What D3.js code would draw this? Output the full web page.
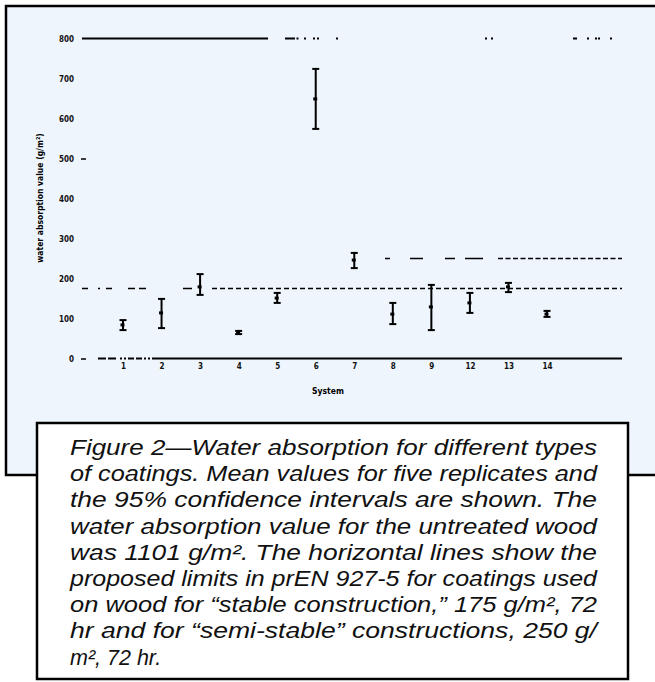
<!DOCTYPE html>
<html>
<head>
<meta charset="utf-8">
<script src="https://cdn.jsdelivr.net/npm/d3@7/dist/d3.min.js"></script>
<style>
  body { margin: 0; background: #fff; }
  svg { display: block; }
  .axis text { font-family: "DejaVu Sans Condensed", "DejaVu Sans", sans-serif; font-weight: bold; font-size: 8px; fill: #111; }
  .caption { font-family: "Liberation Sans", Arial, sans-serif; font-style: italic; font-size: 21.5px; fill: #111; }
</style>
</head>
<body>
<svg width="655" height="682"></svg>
<script>
// coating systems on the x axis
var systems = ["1", "2", "3", "4", "5", "6", "7", "8", "9", "12", "13", "14"];

// water absorption value (g/m2), mean and 95% confidence limits
var means = [84, 114, 179, 65, 151, 649, 246, 111, 129, 139, 179, 111];
var lower = [71, 76, 159, 61, 139, 574, 226, 86, 71, 114, 166, 104];
var upper = [96, 149, 211, 69, 164, 724, 264, 139, 184, 164, 189, 119];

var yTicks = [0, 100, 200, 300, 400, 500, 600, 700, 800];
var limits = [175, 250];   // prEN 927-5 limits
var yMax = 800;

var captionLines = [
  "Figure 2\u2014Water absorption for different types",
  "of coatings. Mean values for five replicates and",
  "the 95% confidence intervals are shown. The",
  "water absorption value for the untreated wood",
  "was 1101 g/m\u00b2. The horizontal lines show the",
  "proposed limits in prEN 927-5 for coatings used",
  "on wood for \u201cstable construction,\u201d 175 g/m\u00b2, 72",
  "hr and for \u201csemi-stable\u201d constructions, 250 g/",
  "m\u00b2, 72 hr."
];

var svg = d3.select("svg");

// light blue panel with black border, runs off the right edge
svg.append("rect")
    .attr("x", 6).attr("y", 6)
    .attr("width", 700).attr("height", 469)
    .attr("fill", "#eef5fc")
    .attr("stroke", "#000")
    .attr("stroke-width", 2.5);

var plotLeft = 80, plotRight = 622;

var x = d3.scalePoint()
    .domain(systems)
    .range([123, 547]);

var y = d3.scaleLinear()
    .domain([0, yMax])
    .range([358.5, 38.5]);

// y axis: labels only, a couple of tick dashes survive in the scan
var yAxis = svg.append("g")
    .attr("class", "axis")
    .attr("transform", "translate(86,0)")
    .call(d3.axisLeft(y).tickValues(yTicks).tickSize(5).tickPadding(7));
yAxis.select(".domain").remove();
yAxis.selectAll(".tick line")
    .attr("stroke-width", 1.5)
    .attr("stroke", "#000")
    .attr("opacity", function(d) { return (d === 0 || d === 500) ? 1 : 0; });

var xAxis = svg.append("g")
    .attr("class", "axis")
    .attr("transform", "translate(0," + y(0) + ")")
    .call(d3.axisBottom(x).tickSize(0).tickPadding(5));
xAxis.select(".domain").remove();

// horizontal lines: the axis, the two limits and the top line (broken in the scan)
// patterns are dash,gap pairs; a leading 0 starts with a gap
function dashes(prefix, unit, total) {
  var arr = prefix.slice(), len = d3.sum(prefix);
  while (len < total) { arr = arr.concat(unit); len += d3.sum(unit); }
  return arr.join(",");
}

var hLines = [
  { v: 0, w: 2, dash: dashes([0, 18, 8, 2, 8, 4, 2, 2, 2, 2, 6, 2, 6, 2, 2, 2, 2, 2, 480, 0], [5, 0], 560) },
  { v: limits[0], w: 1.6, dash: dashes([0, 2, 6, 10, 2, 6, 6, 16, 7, 4, 7, 37, 9, 20], [5, 3], 560) },
  { v: limits[1], w: 1.6, dash: dashes([0, 305, 5, 20, 13, 22, 10, 10, 18, 15], [5, 2.5], 560) },
  { v: yMax, w: 2, dash: "0,2,186,17,10,1.5,2,5.5,2,7,2,2,2,17,2,147,2,4,2,80,4,10,2,6,2,1,2,10,2,40" }
];

svg.append("g")
  .selectAll("line")
  .data(hLines)
  .enter().append("line")
    .attr("x1", plotLeft)
    .attr("x2", plotRight)
    .attr("y1", function(d) { return y(d.v); })
    .attr("y2", function(d) { return y(d.v); })
    .attr("stroke", "#000")
    .attr("stroke-width", function(d) { return d.w; })
    .attr("stroke-dasharray", function(d) { return d.dash; });

// error bars
var bars = systems.map(function(s, i) {
  return { id: s, mean: means[i], lo: lower[i], hi: upper[i] };
});

var bar = svg.append("g")
  .selectAll("g")
  .data(bars)
  .enter().append("g")
    .attr("transform", function(d) { return "translate(" + x(d.id) + ",0)"; });

bar.append("line")
    .attr("y1", function(d) { return y(d.lo); })
    .attr("y2", function(d) { return y(d.hi); })
    .attr("stroke", "#000")
    .attr("stroke-width", 2);

bar.selectAll(".cap")
    .data(function(d) { return [d.lo, d.hi]; })
    .enter().append("line")
    .attr("class", "cap")
    .attr("x1", -3.5).attr("x2", 3.5)
    .attr("y1", function(v) { return y(v); })
    .attr("y2", function(v) { return y(v); })
    .attr("stroke", "#000")
    .attr("stroke-width", 2);

bar.append("rect")
    .attr("x", -2.5)
    .attr("y", function(d) { return y(d.mean) - 1.5; })
    .attr("width", 4)
    .attr("height", 3)
    .attr("fill", "#000");

// axis titles
svg.append("text")
    .attr("transform", "translate(43,198) rotate(-90)")
    .attr("text-anchor", "middle")
    .style("font-family", "'DejaVu Sans Condensed', sans-serif")
    .style("font-weight", "bold")
    .style("font-size", "8.5px")
    .text("water absorption value (g/m\u00b2)");

svg.append("text")
    .attr("x", 328)
    .attr("y", 394)
    .attr("text-anchor", "middle")
    .style("font-family", "'DejaVu Sans Condensed', sans-serif")
    .style("font-weight", "bold")
    .style("font-size", "8.5px")
    .text("System");

// caption box
svg.append("rect")
    .attr("x", 37).attr("y", 423)
    .attr("width", 591).attr("height", 256)
    .attr("fill", "#fff")
    .attr("stroke", "#000")
    .attr("stroke-width", 2.5);

svg.append("g")
  .selectAll("text")
  .data(captionLines)
  .enter().append("text")
    .attr("class", "caption")
    .attr("x", 70)
    .attr("y", function(d, i) { return 455 + i * 26.2; })
    .attr("textLength", function(d, i) { return i < captionLines.length - 1 ? 527 : null; })
    .attr("lengthAdjust", "spacingAndGlyphs")
    .text(function(d) { return d; });
</script>
</body>
</html>
